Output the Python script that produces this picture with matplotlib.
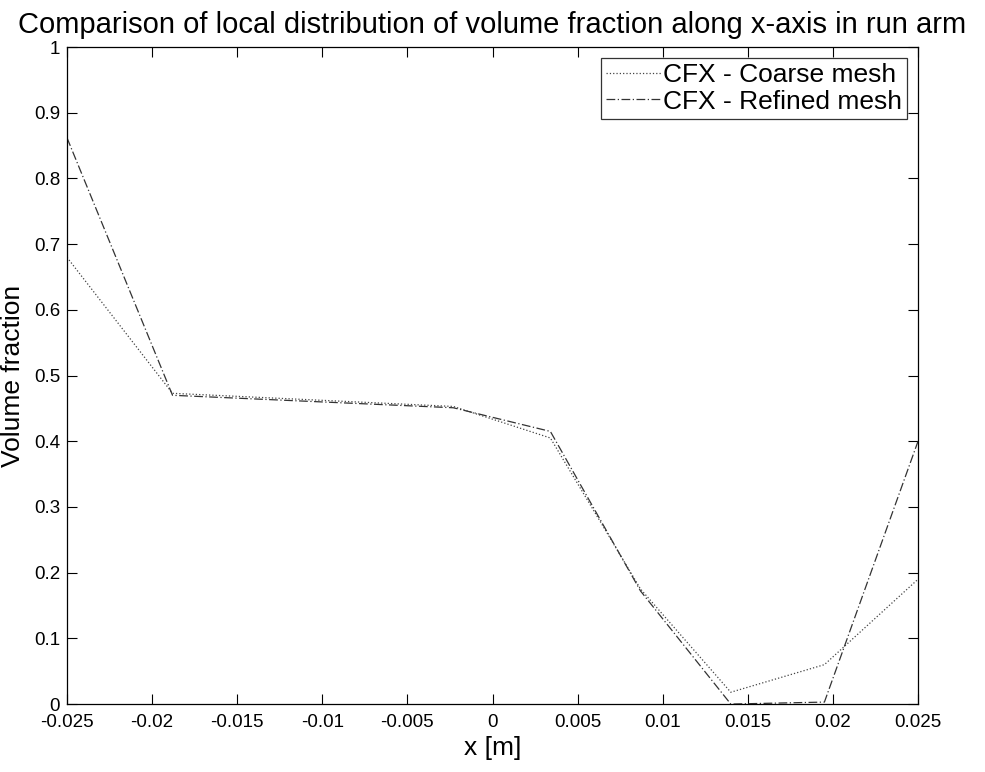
import matplotlib
matplotlib.use("Agg")
import matplotlib.pyplot as plt

plt.rcParams['font.family'] = ['Liberation Sans', 'DejaVu Sans']

# positions along the x-axis [m]
x_pos = [-0.025, -0.0188, -0.0023, 0.0034, 0.0087, 0.0140, 0.0195, 0.025]
coarse = [0.680, 0.473, 0.453, 0.405, 0.175, 0.018, 0.060, 0.190]
refined = [0.862, 0.470, 0.451, 0.415, 0.172, 0.000, 0.003, 0.400]

x_ticks = [-0.025, -0.02, -0.015, -0.01, -0.005, 0, 0.005, 0.01, 0.015, 0.02, 0.025]
x_labels = ['-0.025', '-0.02', '-0.015', '-0.01', '-0.005', '0',
            '0.005', '0.01', '0.015', '0.02', '0.025']
y_ticks = [0, 0.1, 0.2, 0.3, 0.4, 0.5, 0.6, 0.7, 0.8, 0.9, 1]
y_labels = ['0', '0.1', '0.2', '0.3', '0.4', '0.5', '0.6', '0.7', '0.8', '0.9', '1']

fig = plt.figure(figsize=(9.85, 7.72), dpi=100)
ax = fig.add_axes([0.068, 0.088, 0.864, 0.851])

ax.plot(x_pos, coarse, color='#444444', linestyle=':', linewidth=0.9,
        label='CFX - Coarse mesh')
ax.plot(x_pos, refined, color='#333333', linestyle='-.', linewidth=0.9,
        dashes=(7, 2, 1, 2), label='CFX - Refined mesh')

ax.set_xlim(-0.025, 0.025)
ax.set_ylim(0, 1)
ax.set_xticks(x_ticks)
ax.set_xticklabels(x_labels)
ax.set_yticks(y_ticks)
ax.set_yticklabels(y_labels)
ax.tick_params(direction='in', top=True, right=True, labelsize=13.5, length=7,
               width=0.8)
ax.tick_params(axis='x', pad=7)
ax.tick_params(axis='y', pad=5)
for s in ax.spines.values():
    s.set_linewidth(0.9)

ax.set_xlabel('x [m]', fontsize=19, labelpad=4)
ax.set_ylabel('Volume fraction', fontsize=19, labelpad=6)
ax.set_title('Comparison of local distribution of volume fraction along x-axis in run arm',
             fontsize=21, pad=10)

leg = ax.legend(loc='upper right', fontsize=19, frameon=True, fancybox=False,
                edgecolor='black', handlelength=2.1, handletextpad=0.05,
                borderaxespad=0.4, labelspacing=0.1, borderpad=0.2)
leg.get_frame().set_linewidth(0.9)

fig.savefig('out.png', dpi=100)
